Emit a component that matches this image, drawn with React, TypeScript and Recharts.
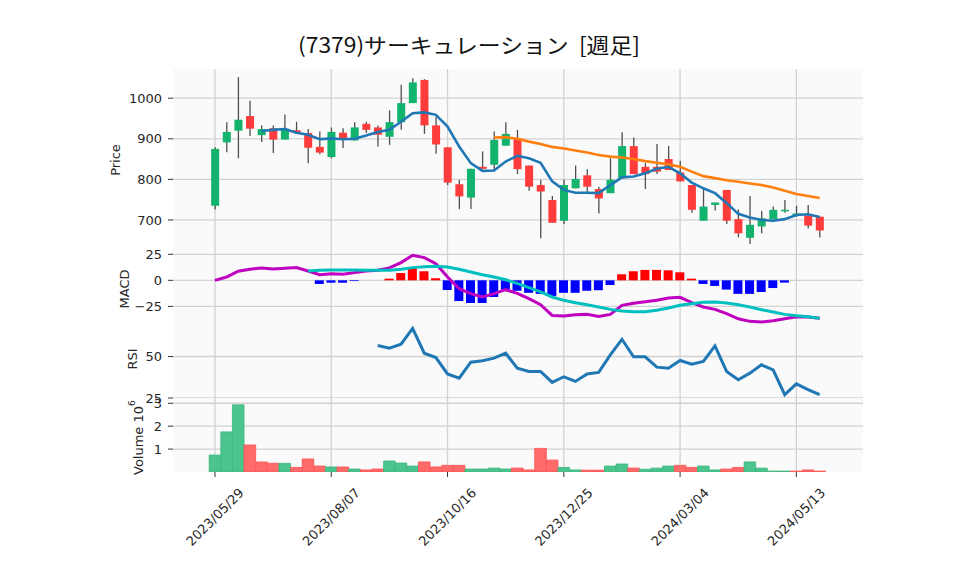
import React from 'react';
import { ComposedChart, Bar, Line, XAxis, YAxis, CartesianGrid, Cell } from 'recharts';

// ---- data (weekly, index 0 = 2023/05/29) ----
const tickIdx = [0, 10, 20, 30, 40, 50];
const tickLabels = ['2023/05/29', '2023/08/07', '2023/10/16', '2023/12/25', '2024/03/04', '2024/05/13'];

const opens = [735, 891, 920, 956, 909, 926, 898, 921, 914, 880, 855, 915, 896, 937, 928, 905, 941, 988, 1045, 933, 879, 788, 755, 831, 836, 883, 901, 834, 786, 749, 698, 778, 810, 776, 766, 803, 882, 831, 831, 850, 817, 786, 698, 737, 774, 702, 656, 684, 702, 722, 710, 711, 708];
const highs = [879, 941, 1052, 994, 933, 933, 960, 942, 924, 918, 928, 926, 941, 942, 933, 970, 1033, 1049, 1047, 955, 879, 799, 826, 869, 918, 941, 922, 834, 799, 759, 799, 834, 825, 782, 852, 916, 903, 840, 887, 882, 846, 786, 776, 743, 774, 726, 759, 722, 733, 749, 735, 737, 708];
const lows = [726, 867, 852, 907, 892, 865, 898, 912, 840, 862, 852, 877, 896, 914, 881, 885, 922, 988, 912, 863, 786, 727, 727, 826, 823, 883, 813, 772, 655, 693, 690, 778, 764, 716, 766, 803, 813, 776, 813, 823, 795, 718, 698, 723, 690, 657, 641, 667, 702, 718, 708, 679, 657];
const closes = [875, 917, 947, 925, 924, 898, 925, 915, 878, 866, 917, 900, 928, 922, 910, 941, 988, 1039, 933, 886, 792, 758, 826, 826, 897, 912, 825, 782, 770, 693, 786, 801, 782, 753, 799, 882, 813, 813, 819, 823, 795, 725, 733, 743, 698, 667, 688, 704, 725, 725, 716, 686, 674];

const ma5 = [null, null, null, null, 919, 922, 924, 915, 910, 899, 901, 899, 900, 908, 917, 922, 942, 963, 965, 959, 930, 881, 840, 821, 822, 844, 858, 852, 841, 795, 774, 767, 767, 766, 786, 805, 807, 815, 826, 831, 815, 792, 778, 766, 742, 715, 706, 700, 698, 702, 712, 714, 707];
const ma25 = [null, null, null, null, null, null, null, null, null, null, null, null, null, null, null, null, null, null, null, null, null, null, null, null, 903, 904, 900, 893, 887, 880, 876, 871, 866, 860, 856, 854, 850, 845, 841, 837, 831, 819, 808, 803, 798, 794, 790, 786, 780, 772, 764, 759, 754];

const macd = [0, 3.2, 8.7, 10.6, 11.9, 10.9, 11.5, 12.2, 9, 5.4, 6.4, 5.8, 7.4, 9, 9.6, 11.9, 17, 24, 21.8, 16, 3.2, -8, -12.8, -16, -12.8, -9, -12.5, -17.6, -23.4, -33.7, -34.3, -33, -32.7, -34.6, -32.7, -24, -22.1, -20.5, -19.2, -17, -16.3, -21.5, -25.6, -27.9, -32, -36.9, -39.4, -40, -38.8, -36.9, -34.9, -35.3, -36.5];
const signal = [null, null, null, null, null, null, null, null, 9, 9.6, 9.9, 9.9, 9.9, 9.6, 9.6, 9.6, 10.6, 12.2, 13.1, 13.5, 12.8, 10.6, 8, 5.4, 3.2, 0.5, -3, -7, -11, -16, -19.2, -21.5, -23.4, -25.6, -27.9, -29.5, -30.1, -30.1, -28.8, -26.6, -24, -22.4, -21.1, -20.8, -21.8, -23.4, -25.6, -28.2, -30.4, -32.7, -34, -35, -36.5];
const hist = [null, null, null, null, null, null, null, null, null, -3.5, -2.3, -2.3, -0.7, 0, 0, 1.6, 7, 12.8, 8.7, 2, -9.3, -19.9, -21.8, -21.8, -16, -9, -10, -12, -13, -15, -12, -12, -10, -9.5, -4.5, 5.8, 8.7, 10, 10, 9.6, 7.7, 1.6, -3.5, -5.4, -8.9, -13, -13, -11.2, -7.4, -2.2, 0, 0, 0];

const rsi = [null, null, null, null, null, null, null, null, null, null, null, null, null, null, 56.6, 55, 57.4, 67, 52, 49.4, 39.5, 37, 46.6, 47.4, 49, 52, 43, 41, 41, 34.4, 37.8, 35, 39.5, 40.4, 51, 60.4, 49.8, 49.8, 43.6, 43, 47.6, 45.4, 47, 56.4, 41, 36, 40, 45, 41.9, 27, 33.5, 30, 27];

// volume in millions of shares
const volumeM = [0.74, 1.75, 2.93, 1.18, 0.44, 0.38, 0.38, 0.2, 0.57, 0.26, 0.22, 0.22, 0.13, 0.09, 0.13, 0.48, 0.39, 0.26, 0.44, 0.22, 0.29, 0.29, 0.13, 0.13, 0.17, 0.13, 0.17, 0.09, 1.03, 0.52, 0.2, 0.09, 0.08, 0.08, 0.26, 0.35, 0.17, 0.12, 0.17, 0.26, 0.29, 0.2, 0.26, 0.09, 0.13, 0.2, 0.44, 0.17, 0.04, 0.04, 0.04, 0.09, 0.04];

const rows = closes.map((c, i) => ({
  i,
  range: [lows[i], highs[i]],
  o: opens[i], h: highs[i], l: lows[i], c,
  ma5: ma5[i], ma25: ma25[i],
  macd: macd[i], signal: signal[i], hist: hist[i],
  rsi: rsi[i],
  vol: volumeM[i] * 1e6,
  volUp: i === 0 || c >= closes[i - 1],
}));

// ---- styling ----
const XMIN = -3.61;
const XMAX = 55.73;
const ML = 113;
const MR = 95;
const YW = 60;
const PAD = 12; // extra room above/below each panel so edge tick labels are not clipped
const GRID = '#d2d2d2';
const BG = '#fafafa';
const FONT = 'DejaVu Sans, sans-serif';
const tickStyle = { fontFamily: FONT, fontSize: 13, fill: '#262626' };
const UP = '#12b36c';
const DOWN = '#ff3b3b';

const Candle = (props: any) => {
  const { x, y, width, height, payload } = props;
  if (!payload) return null;
  const { o, h, l, c } = payload;
  const top = Math.min(y, y + height);
  const span = Math.abs(height);
  const ppu = span / (h - l);
  const cx = x + width / 2;
  const bodyTop = top + (h - Math.max(o, c)) * ppu;
  const bodyH = Math.max(1.5, Math.abs(o - c) * ppu);
  return (
    <g>
      <line x1={cx} x2={cx} y1={top} y2={top + span} stroke="#505050" strokeWidth={1.3} />
      <rect x={x} y={bodyTop} width={width} height={bodyH} fill={c >= o ? UP : DOWN} />
    </g>
  );
};

const XTick = (props: any) => {
  const { x, y, payload } = props;
  const k = tickIdx.indexOf(payload.value);
  return (
    <text
      transform={`translate(${x},${y + 38}) rotate(-45)`}
      textAnchor="middle"
      dominantBaseline="central"
      style={tickStyle}
    >
      {k >= 0 ? tickLabels[k] : ''}
    </text>
  );
};

const hiddenX = (
  <XAxis type="number" dataKey="i" domain={[XMIN, XMAX]} hide allowDataOverflow />
);

const grid = (yTicks: number[]) => (
  <CartesianGrid
    fill={BG}
    stroke={GRID}
    strokeWidth={1.3}
    verticalValues={tickIdx}
    horizontalValues={yTicks}
  />
);

const pos = (top: number): React.CSSProperties => ({ position: 'absolute', left: 0, top: top - PAD });
const mg = (bottom: number = PAD) => ({ top: PAD, right: MR, bottom, left: ML });

export default function App() {
  const priceTicks = [700, 800, 900, 1000];
  const macdTicks = [-25, 0, 25];
  const rsiTicks = [25, 50];
  const volTicks = [1e6, 2e6, 3e6];
  const yCommon = {
    type: 'number' as const,
    allowDataOverflow: true,
    width: YW,
    tick: tickStyle,
    tickSize: 5,
    tickMargin: 6,
    axisLine: false,
    tickLine: { stroke: '#333' },
    interval: 0 as const,
  };
  return (
    <div style={{ position: 'absolute', left: 0, top: 0, width: 958, height: 575, background: '#fff', overflow: 'hidden' }}>
      {/* Price panel: 69 -> 252 */}
      <div style={pos(69)}>
        <ComposedChart width={958} height={183 + 2 * PAD} data={rows} margin={mg()}>
          {grid(priceTicks)}
          {hiddenX}
          <YAxis {...yCommon} domain={[621, 1072]} ticks={priceTicks} />
          <Bar dataKey="range" barSize={8} shape={Candle} isAnimationActive={false} />
          <Line dataKey="ma25" stroke="#ff7f0e" strokeWidth={2.6} dot={false} isAnimationActive={false} />
          <Line dataKey="ma5" stroke="#1f77b4" strokeWidth={2.6} dot={false} isAnimationActive={false} />
        </ComposedChart>
      </div>

      {/* MACD panel: 252 -> 325 */}
      <div style={pos(252)}>
        <ComposedChart width={958} height={73 + 2 * PAD} data={rows} margin={mg()}>
          {grid(macdTicks)}
          {hiddenX}
          <YAxis {...yCommon} domain={[-42.9, 27.2]} ticks={macdTicks}
            tickFormatter={(v: number) => (v < 0 ? '\u2212' + Math.abs(v) : String(v))} />
          <Bar dataKey="hist" barSize={9} isAnimationActive={false}>
            {rows.map((r, k) => (
              <Cell key={k} fill={(r.hist ?? 0) >= 0 ? '#ff0000' : '#0000ff'} />
            ))}
          </Bar>
          <Line dataKey="macd" stroke="#bf00bf" strokeWidth={3} dot={false} isAnimationActive={false} />
          <Line dataKey="signal" stroke="#00bfbf" strokeWidth={3} dot={false} isAnimationActive={false} />
        </ComposedChart>
      </div>

      {/* RSI panel: 325 -> 398 */}
      <div style={pos(325)}>
        <ComposedChart width={958} height={73 + 2 * PAD} data={rows} margin={mg()}>
          {grid(rsiTicks)}
          {hiddenX}
          <YAxis {...yCommon} domain={[25, 69]} ticks={rsiTicks} />
          <Line dataKey="rsi" stroke="#1f77b4" strokeWidth={3} dot={false} isAnimationActive={false} />
        </ComposedChart>
      </div>

      {/* Volume panel: 398 -> 472 */}
      <div style={pos(398)}>
        <ComposedChart width={958} height={74 + PAD + 100} data={rows} margin={mg(0)}>
          {grid(volTicks)}
          <XAxis type="number" dataKey="i" domain={[XMIN, XMAX]} ticks={tickIdx} allowDataOverflow height={100}
            tick={XTick} tickSize={5} axisLine={false} tickLine={{ stroke: '#333' }} interval={0} />
          <YAxis {...yCommon} domain={[0, 3.23e6]} ticks={volTicks}
            tickFormatter={(v: number) => String(Math.round(v / 1e6))} />
          <Bar dataKey="vol" barSize={11.6} isAnimationActive={false}>
            {rows.map((r, k) => (
              <Cell key={k} fill={r.volUp ? '#4bc48d' : '#ff6b6b'} stroke={r.volUp ? '#3db57f' : '#ff5050'} strokeWidth={0.8} />
            ))}
          </Bar>
        </ComposedChart>
      </div>

      {/* Title and axis labels */}
      <svg width={958} height={575} style={{ position: 'absolute', left: 0, top: 0, pointerEvents: 'none' }}>
        <text x={469} y={53} textAnchor="middle" textLength={342} lengthAdjust="spacingAndGlyphs"
          style={{ fontFamily: '"Noto Sans CJK JP", sans-serif', fontSize: 21, fill: '#111', whiteSpace: 'pre' }}>
          {'(7379)サーキュレーション\u00a0\u00a0[週足]'}
        </text>
        <text transform="translate(115,160) rotate(-90)" textAnchor="middle" dominantBaseline="central" style={tickStyle}>Price</text>
        <text transform="translate(124,289) rotate(-90)" textAnchor="middle" dominantBaseline="central" style={tickStyle}>MACD</text>
        <text transform="translate(132,359) rotate(-90)" textAnchor="middle" dominantBaseline="central" style={tickStyle}>RSI</text>
        <text transform="translate(138,475) rotate(-90)" textAnchor="start" dominantBaseline="central" style={tickStyle}>
          Volume  10<tspan dy={-6} fontSize={9}>6</tspan>
        </text>
      </svg>
    </div>
  );
}
